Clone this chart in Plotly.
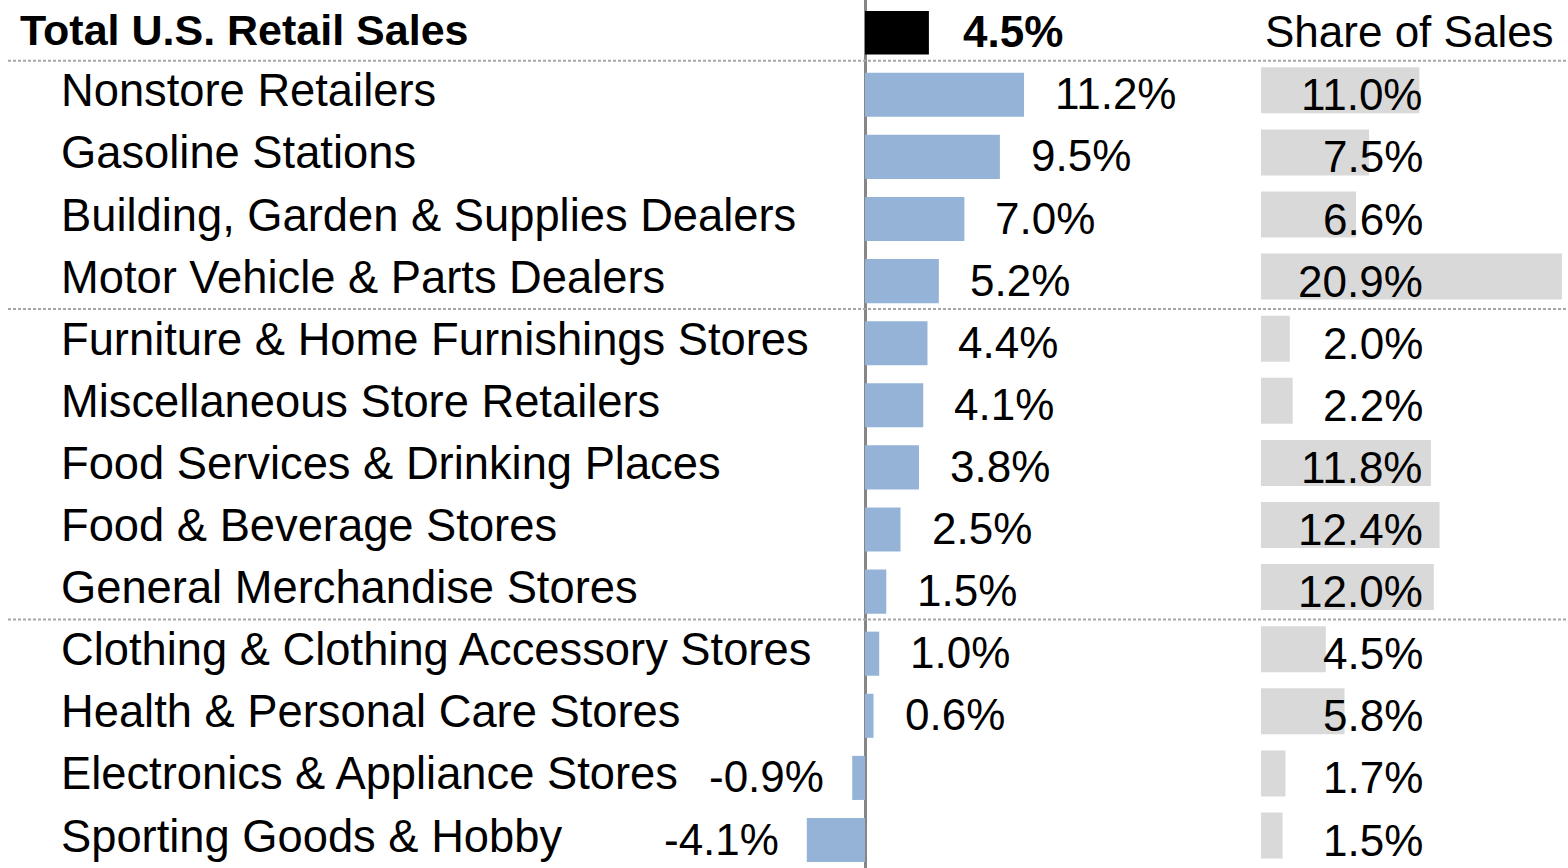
import plotly.graph_objects as go

total_label = "Total U.S. Retail Sales"
total_growth = 4.5

categories = [
    "Nonstore Retailers",
    "Gasoline Stations",
    "Building, Garden & Supplies Dealers",
    "Motor Vehicle & Parts Dealers",
    "Furniture & Home Furnishings Stores",
    "Miscellaneous Store Retailers",
    "Food Services & Drinking Places",
    "Food & Beverage Stores",
    "General Merchandise Stores",
    "Clothing & Clothing Accessory Stores",
    "Health & Personal Care Stores",
    "Electronics & Appliance Stores",
    "Sporting Goods & Hobby",
]
growth = [11.2, 9.5, 7.0, 5.2, 4.4, 4.1, 3.8, 2.5, 1.5, 1.0, 0.6, -0.9, -4.1]
share = [11.0, 7.5, 6.6, 20.9, 2.0, 2.2, 11.8, 12.4, 12.0, 4.5, 5.8, 1.7, 1.5]
share_header = "Share of Sales"
separator_after = [total_label, "Motor Vehicle & Parts Dealers", "General Merchandise Stores"]

rows = [total_label] + categories

W, H = 1568, 868
FONT = "Liberation Sans, Arial, sans-serif"
FS = 44
FS_LABEL = 45.3
FS_BOLD = 43
BLUE = "#95B3D7"
GREY = "#D9D9D9"

# pixel geometry of the axes (layout only)
pitch = 62.1
row0 = 32.7
yr0 = -row0 / pitch
yr1 = yr0 + H / pitch
g_zero, g_scale = 865.0, 14.2
g_px0, g_px1 = 790.0, 1250.0
s_zero, s_scale = 1261.0, 14.4
s_px0 = 1255.0
share_shift = 4.5 / pitch

fig = go.Figure()

fig.add_trace(go.Bar(
    y=[total_label], x=[total_growth], orientation="h",
    marker=dict(color="black", line=dict(width=0)), width=0.70,
    xaxis="x", yaxis="y", hoverinfo="skip", showlegend=False,
))
fig.add_trace(go.Bar(
    y=categories, x=growth, orientation="h",
    marker=dict(color=BLUE, line=dict(width=0)), width=0.71,
    xaxis="x", yaxis="y", hoverinfo="skip", showlegend=False,
))
fig.add_trace(go.Bar(
    y=categories, x=share, orientation="h",
    marker=dict(color=GREY, line=dict(width=0)), width=0.74,
    xaxis="x2", yaxis="y2", hoverinfo="skip", showlegend=False,
))

ann = []
# row labels
ann.append(dict(text="<b>%s</b>" % total_label, xref="paper", x=18 / W, xanchor="left",
                yref="y", y=total_label, yanchor="middle", yshift=3,
                showarrow=False, font=dict(family=FONT, size=FS_BOLD, color="black")))
for c in categories:
    ann.append(dict(text=c, xref="paper", x=59 / W, xanchor="left",
                    yref="y", y=c, yanchor="middle", yshift=4,
                    showarrow=False, font=dict(family=FONT, size=FS_LABEL, color="black")))
# growth value labels
ann.append(dict(text="<b>%.1f%%</b>" % total_growth, xref="x", x=total_growth, xanchor="left",
                xshift=32, yref="y", y=total_label, yanchor="middle", yshift=1,
                showarrow=False, font=dict(family=FONT, size=FS, color="black")))
for c, v in zip(categories, growth):
    pos = v >= 0
    ann.append(dict(text="%.1f%%" % v, xref="x", x=v,
                    xanchor="left" if pos else "right", xshift=29 if pos else -26,
                    yref="y", y=c, yanchor="middle", yshift=1,
                    showarrow=False, font=dict(family=FONT, size=FS, color="black")))
# share labels
share_text_x = (1425 - s_zero) / s_scale
for c, v in zip(categories, share):
    ann.append(dict(text="%.1f%%" % v, xref="x2", x=share_text_x, xanchor="right",
                    yref="y", y=c, yanchor="middle", yshift=0,
                    showarrow=False, font=dict(family=FONT, size=FS, color="black")))
ann.append(dict(text=share_header, xref="paper", x=1263 / W, xanchor="left",
                yref="y", y=total_label, yanchor="middle", yshift=1,
                showarrow=False, font=dict(family=FONT, size=FS, color="black")))

shapes = []
for name in separator_after:
    idx = rows.index(name)
    shapes.append(dict(type="line", xref="paper", x0=8 / W, x1=1,
                       yref="y", y0=idx + 0.45, y1=idx + 0.45,
                       line=dict(color="#A6A6A6", width=2, dash="3px,2px"), layer="above"))

fig.update_layout(
    width=W, height=H,
    margin=dict(l=0, r=0, t=0, b=0),
    paper_bgcolor="white", plot_bgcolor="rgba(0,0,0,0)",
    barmode="overlay",
    xaxis=dict(domain=[g_px0 / W, g_px1 / W],
               range=[(g_px0 - g_zero) / g_scale, (g_px1 - g_zero) / g_scale],
               showgrid=False, showticklabels=False, ticks="",
               zeroline=True, zerolinecolor="#868686", zerolinewidth=3,
               showline=False, fixedrange=True, anchor="y"),
    yaxis=dict(domain=[0, 1], type="category", categoryorder="array", categoryarray=rows,
               range=[yr1, yr0], showgrid=False, showticklabels=False, ticks="",
               zeroline=False, showline=False, fixedrange=True, anchor="x"),
    xaxis2=dict(domain=[s_px0 / W, 1],
                range=[(s_px0 - s_zero) / s_scale, (W - s_zero) / s_scale],
                showgrid=False, showticklabels=False, ticks="", zeroline=False,
                showline=False, fixedrange=True, anchor="y2"),
    yaxis2=dict(domain=[0, 1], type="category", categoryorder="array", categoryarray=rows,
                range=[yr1 + share_shift, yr0 + share_shift], showgrid=False,
                showticklabels=False, ticks="", zeroline=False, showline=False,
                fixedrange=True, anchor="x2"),
    annotations=ann,
    shapes=shapes,
)

fig.write_html(
    "out.html",
    config={"displayModeBar": False},
    post_script="document.body.style.margin='0';document.body.style.overflow='hidden';",
)
